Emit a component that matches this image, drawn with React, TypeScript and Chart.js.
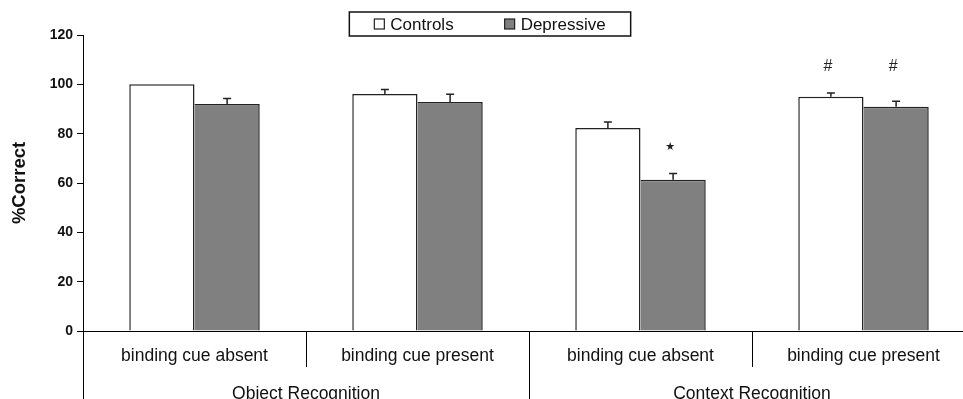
import React, { useEffect, useRef } from "react";
import { Chart, registerables } from "chart.js";

Chart.register(...registerables);

const categories = ["binding cue absent", "binding cue present", "binding cue absent", "binding cue present"];
const groups = ["Object Recognition", "Context Recognition"];
const seriesNames = ["Controls", "Depressive"];
const controls = [100, 96.1, 82.3, 95.0];
const controlsErr = [0, 1.8, 2.4, 1.5];
const depressive = [92.0, 92.8, 61.3, 90.9];
const depressiveErr = [2.3, 3.2, 2.6, 2.2];
const controlsMarks = ["", "", "", "#"];
const depressiveMarks = ["", "", "★", "#"];
const yMin = 0;
const yMax = 120;
const yStep = 20;

const FONT = '"Liberation Sans", Arial, Helvetica, sans-serif';
const errs = [controlsErr, depressiveErr];
const marks = [controlsMarks, depressiveMarks];

const extrasPlugin = {
  id: "extras",
  afterDatasetsDraw(chart: any) {
    const ctx = chart.ctx;
    const y = chart.scales.y;
    const x = chart.scales.x;
    ctx.save();
    // error bars
    const markTops: number[] = categories.map(() => Infinity);
    chart.data.datasets.forEach((ds: any, i: number) => {
      const meta = chart.getDatasetMeta(i);
      meta.data.forEach((bar: any, j: number) => {
        const e = errs[i][j];
        const top = e > 0 ? y.getPixelForValue(ds.data[j] + e) : bar.y;
        if (marks[i][j]) markTops[j] = Math.min(markTops[j], top);
        if (e > 0) {
          ctx.strokeStyle = "#222";
          ctx.lineWidth = 1.5;
          ctx.beginPath();
          ctx.moveTo(bar.x, bar.y);
          ctx.lineTo(bar.x, top);
          ctx.moveTo(bar.x - 4, top);
          ctx.lineTo(bar.x + 4, top);
          ctx.stroke();
        }
      });
    });
    // significance marks
    ctx.fillStyle = "#222";
    ctx.textAlign = "center";
    ctx.textBaseline = "middle";
    chart.data.datasets.forEach((ds: any, i: number) => {
      const meta = chart.getDatasetMeta(i);
      meta.data.forEach((bar: any, j: number) => {
        const m = marks[i][j];
        if (!m) return;
        ctx.font = m === "#" ? `16px ${FONT}` : `11px "DejaVu Sans", sans-serif`;
        ctx.fillText(m, bar.x - 3, markTops[j] - 26);
      });
    });
    // category dividers below axis
    const bottom = chart.height;
    const axisY = chart.chartArea.bottom;
    ctx.strokeStyle = "#000";
    ctx.lineWidth = 1;
    const n = categories.length;
    const half = (x.getPixelForValue(1) - x.getPixelForValue(0)) / 2;
    for (let k = 0; k <= n; k++) {
      const px = Math.round(k < n ? x.getPixelForValue(k) - half : x.getPixelForValue(n - 1) + half) + 0.5;
      const isGroup = k % 2 === 0;
      ctx.beginPath();
      ctx.moveTo(px, axisY);
      ctx.lineTo(px, isGroup ? bottom : axisY + 36);
      ctx.stroke();
    }
    ctx.restore();
  },
  afterDraw(chart: any) {
    const ctx = chart.ctx;
    const ds = chart.data.datasets;
    ctx.save();
    ctx.font = `17px ${FONT}`;
    const box = 10;
    const gapIcon = 6;
    const gapItem = 51;
    const widths = ds.map((d: any) => box + gapIcon + ctx.measureText(d.label).width);
    const total = widths.reduce((a: number, b: number) => a + b, 0) + gapItem * (ds.length - 1);
    const cx = 490;
    const cy = 24;
    let xx = cx - total / 2;
    ctx.strokeStyle = "#111";
    ctx.lineWidth = 1.5;
    ctx.fillStyle = "#fff";
    ctx.fillRect(xx - 25, 12, total + 50, 24);
    ctx.strokeRect(xx - 25, 12, total + 50, 24);
    ds.forEach((d: any, i: number) => {
      ctx.fillStyle = d.backgroundColor;
      ctx.fillRect(xx, cy - 5, box, box);
      ctx.lineWidth = 1.2;
      ctx.strokeStyle = "#222";
      ctx.strokeRect(xx, cy - 5, box, box);
      ctx.fillStyle = "#111";
      ctx.textAlign = "left";
      ctx.textBaseline = "middle";
      ctx.fillText(d.label, xx + box + gapIcon, cy + 1);
      xx += widths[i] + gapItem;
    });
    ctx.restore();
  },
};

export default function App() {
  const ref = useRef<HTMLCanvasElement | null>(null);
  useEffect(() => {
    if (!ref.current) return;
    const chart = new Chart(ref.current, {
      type: "bar",
      data: {
        labels: categories,
        datasets: [
          {
            label: seriesNames[0],
            data: controls,
            backgroundColor: "#ffffff",
            borderColor: "#222",
            borderWidth: { top: 1.5, left: 1.5, right: 1.5, bottom: 0 },
            borderSkipped: false,
            categoryPercentage: 0.585,
            barPercentage: 1,
          },
          {
            label: seriesNames[1],
            data: depressive,
            backgroundColor: "#808080",
            borderColor: "#222",
            borderWidth: { top: 1.5, left: 0, right: 1.5, bottom: 0 },
            borderSkipped: false,
            categoryPercentage: 0.585,
            barPercentage: 1,
          },
        ],
      },
      options: {
        responsive: false,
        animation: false,
        devicePixelRatio: 1,
        layout: { padding: { top: 35, right: 15, bottom: 0, left: 0 } },
        plugins: { legend: { display: false }, tooltip: { enabled: false } },
        scales: {
          y: {
            min: yMin,
            max: yMax,
            ticks: {
              stepSize: yStep,
              color: "#111",
              font: { family: FONT, size: 14, weight: "bold" },
              padding: 4,
            },
            grid: { drawOnChartArea: false, drawTicks: true, tickLength: 6, color: "#000" },
            border: { display: true, color: "#000", width: 1 },
            title: {
              display: true,
              text: "%Correct",
              color: "#111",
              font: { family: FONT, size: 18.5, weight: "bold" },
              padding: { top: 9, bottom: 0 },
            },
            afterFit: (s: any) => {
              s.width = 83;
            },
          },
          x: {
            type: "category",
            weight: 1,
            offset: true,
            grid: { display: false, drawTicks: false },
            border: { display: true, color: "#000", width: 1 },
            ticks: {
              color: "#111",
              font: { family: FONT, size: 17.5 },
              padding: 15,
              autoSkip: false,
              maxRotation: 0,
            },
            afterFit: (s: any) => {
              s.height = 45;
            },
          },
          x2: {
            type: "category",
            labels: groups,
            position: "bottom",
            weight: 2,
            offset: true,
            grid: { display: false, drawTicks: false },
            border: { display: false },
            ticks: {
              color: "#111",
              font: { family: FONT, size: 17.5 },
              padding: 8,
              autoSkip: false,
              maxRotation: 0,
            },
            afterFit: (s: any) => {
              s.height = 34;
            },
          },
        },
      },
      plugins: [extrasPlugin],
    } as any);
    return () => chart.destroy();
  }, []);
  return (
    <div
      style={{
        position: "fixed",
        left: 0,
        top: 0,
        width: 963,
        height: 399,
        overflow: "hidden",
        background: "#fff",
      }}
    >
      <canvas ref={ref} width={990} height={410} style={{ display: "block", width: 990, height: 410 }} />
    </div>
  );
}
